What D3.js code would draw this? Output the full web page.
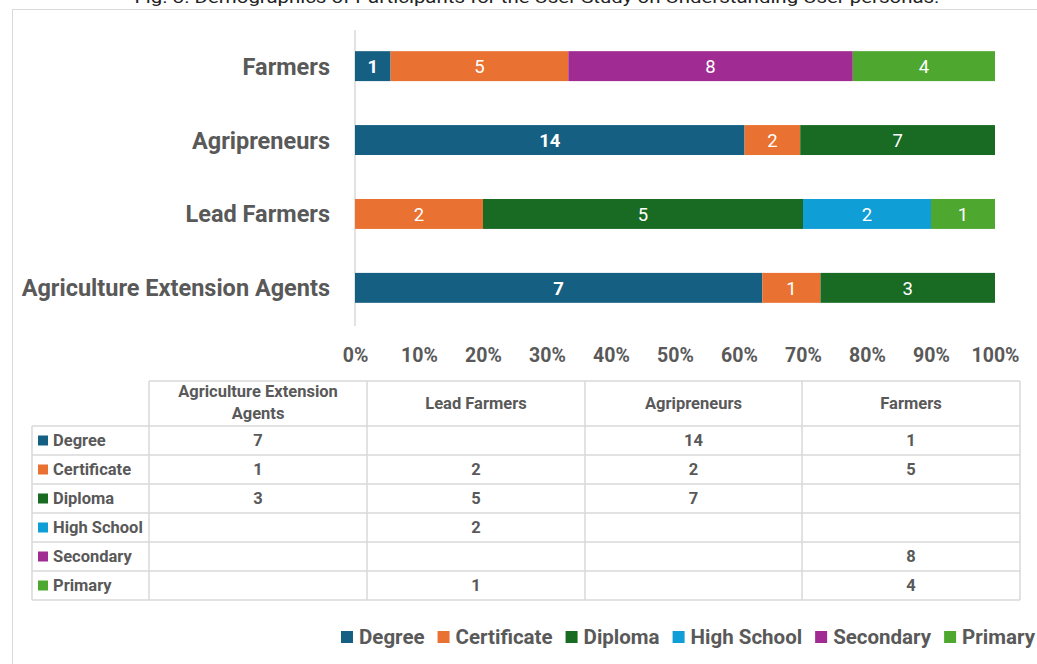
<!doctype html>
<html>
<head>
<meta charset="utf-8">
<title>Demographics of Participants</title>
<script src="https://cdn.jsdelivr.net/npm/d3@7"></script>
<style>
  body { margin: 0; background: #fff; }
  text { font-family: Roboto, "Noto Sans", sans-serif; }
</style>
</head>
<body>
<svg width="1037" height="664"></svg>
<script>
// data
var groups = ["Farmers", "Agripreneurs", "Lead Farmers", "Agriculture Extension Agents"];
var levels = ["Degree", "Certificate", "Diploma", "High School", "Secondary", "Primary"];
var colors = ["#156082", "#E97132", "#196B24", "#0F9ED5", "#A02B93", "#4EA72E"];
// counts per level, in order of groups above
var degree      = [1, 14, 0, 7];
var certificate = [5, 2, 2, 1];
var diploma     = [0, 7, 5, 3];
var highSchool  = [0, 0, 2, 0];
var secondary   = [8, 0, 0, 0];
var primary     = [4, 0, 1, 0];
var tickVals = [0, 0.1, 0.2, 0.3, 0.4, 0.5, 0.6, 0.7, 0.8, 0.9, 1];
// table column order
var tableCols = ["Agriculture Extension Agents", "Lead Farmers", "Agripreneurs", "Farmers"];

var series = [degree, certificate, diploma, highSchool, secondary, primary];
var grey = "#595959", lineCol = "#d9d9d9";

var svg = d3.select("svg");

// title (cut off at the top, as in the original page)
svg.append("text")
  .attr("x", 537).attr("y", 3)
  .attr("text-anchor", "middle")
  .attr("font-family", "Liberation Sans")
  .attr("font-size", 17)
  .attr("fill", "#222")
  .attr("textLength", 805).attr("lengthAdjust", "spacingAndGlyphs")
  .text("Fig. 3. Demographics of Participants for the User Study on Understanding User personas.");

// chart frame
svg.append("rect")
  .attr("x", 12.5).attr("y", 9.5).attr("width", 1040).attr("height", 680)
  .attr("fill", "none").attr("stroke", lineCol);

// rows: one object per group
var rows = groups.map(function(g, i) {
  var r = { group: g };
  levels.forEach(function(l, j) { r[l] = series[j][i]; });
  return r;
});
var stacked = d3.stack().keys(levels).offset(d3.stackOffsetExpand)(rows);

var x = d3.scaleLinear().domain([0, 1]).range([355, 995]);
var y = d3.scaleBand().domain(groups).range([29, 325]).paddingInner(0.595).paddingOuter(0.3);

// axis line at 0
svg.append("line")
  .attr("x1", x(0)).attr("x2", x(0)).attr("y1", 30).attr("y2", 326)
  .attr("stroke", lineCol).attr("stroke-width", 1.5);

var layer = svg.append("g").selectAll("g")
  .data(stacked).enter().append("g")
  .attr("fill", function(d, i) { return colors[i]; });

layer.selectAll("rect")
  .data(function(d) { return d.map(function(p) { p.key = d.key; return p; }); })
  .enter().append("rect")
  .attr("x", function(d) { return x(d[0]); })
  .attr("y", function(d) { return y(d.data.group); })
  .attr("width", function(d) { return x(d[1]) - x(d[0]); })
  .attr("height", y.bandwidth());

layer.selectAll("text")
  .data(function(d) { return d.filter(function(p) { return p.data[d.key] > 0; }); })
  .enter().append("text")
  .attr("x", function(d) { return (x(d[0]) + x(d[1])) / 2; })
  .attr("y", function(d) { return y(d.data.group) + y.bandwidth() / 2; })
  .attr("dy", "0.36em")
  .attr("text-anchor", "middle")
  .attr("fill", "#fff")
  .attr("font-size", 18.5)
  .attr("font-weight", function(d) { return d.key == "Degree" ? "bold" : "normal"; })
  .text(function(d) { return d.data[d.key]; });

// category labels
svg.append("g").selectAll("text")
  .data(groups).enter().append("text")
  .attr("x", 330)
  .attr("y", function(d) { return y(d) + y.bandwidth() / 2; })
  .attr("dy", "0.36em")
  .attr("text-anchor", "end")
  .attr("font-size", 23.5).attr("font-weight", "bold")
  .attr("fill", grey)
  .text(function(d) { return d; });

// x axis ticks
var xAxis = svg.append("g")
  .attr("transform", "translate(0,355)")
  .call(d3.axisBottom(x).tickValues(tickVals).tickFormat(d3.format(".0%")).tickSize(0).tickPadding(0));
xAxis.select(".domain").remove();
xAxis.selectAll("text")
  .attr("dy", "0.36em")
  .attr("font-size", 19.5).attr("font-weight", "bold")
  .attr("font-family", "Roboto")
  .attr("fill", grey);

// data table
var colX = [32, 149, 367, 585, 802, 1020];
var rowY = [381, 426, 455, 484, 513, 542, 571, 600];
var tbl = svg.append("g").attr("stroke", lineCol).attr("stroke-width", 1.5);
rowY.forEach(function(yy, i) {
  tbl.append("line")
    .attr("x1", i == 0 ? colX[1] : colX[0]).attr("x2", colX[5])
    .attr("y1", yy).attr("y2", yy);
});
colX.forEach(function(xx, i) {
  tbl.append("line")
    .attr("x1", xx).attr("x2", xx)
    .attr("y1", i == 0 ? rowY[1] : rowY[0]).attr("y2", rowY[7]);
});

// header
var head = svg.append("g");
tableCols.forEach(function(c, i) {
  var cx = (colX[i + 1] + colX[i + 2]) / 2;
  var t = head.append("text")
    .attr("x", cx).attr("text-anchor", "middle")
    .attr("font-size", 16.5).attr("font-weight", "bold").attr("fill", grey);
  if (c == "Agriculture Extension Agents") {
    t.append("tspan").attr("x", cx).attr("y", 397).text("Agriculture Extension");
    t.append("tspan").attr("x", cx).attr("y", 419).text("Agents");
  } else {
    t.attr("y", 409).text(c);
  }
});

// body
levels.forEach(function(l, j) {
  var yc = (rowY[j + 1] + rowY[j + 2]) / 2;
  svg.append("rect")
    .attr("x", 38).attr("y", yc - 5).attr("width", 10).attr("height", 10)
    .attr("fill", colors[j]);
  svg.append("text")
    .attr("x", 53).attr("y", yc).attr("dy", "0.36em")
    .attr("font-size", 16.5).attr("font-weight", "bold").attr("fill", grey)
    .text(l);
  tableCols.forEach(function(c, i) {
    var v = series[j][groups.indexOf(c)];
    if (!v) return;
    svg.append("text")
      .attr("x", (colX[i + 1] + colX[i + 2]) / 2).attr("y", yc).attr("dy", "0.36em")
      .attr("text-anchor", "middle")
      .attr("font-size", 16.5).attr("font-weight", "bold").attr("fill", grey)
      .text(v);
  });
});

// legend
var leg = svg.append("g");
var lx = 0;
levels.forEach(function(l, j) {
  var g = leg.append("g").attr("transform", "translate(" + lx + ",0)");
  g.append("rect").attr("x", 0).attr("y", -6).attr("width", 12).attr("height", 12).attr("fill", colors[j]);
  var t = g.append("text").attr("x", 18).attr("dy", "0.36em")
    .attr("font-size", 20.5).attr("font-weight", "bold").attr("fill", grey).text(l);
  lx += 18 + t.node().getComputedTextLength() + 13;
});
lx -= 13;
leg.attr("transform", "translate(" + (1035 - lx) + ",637)");
</script>
</body>
</html>
